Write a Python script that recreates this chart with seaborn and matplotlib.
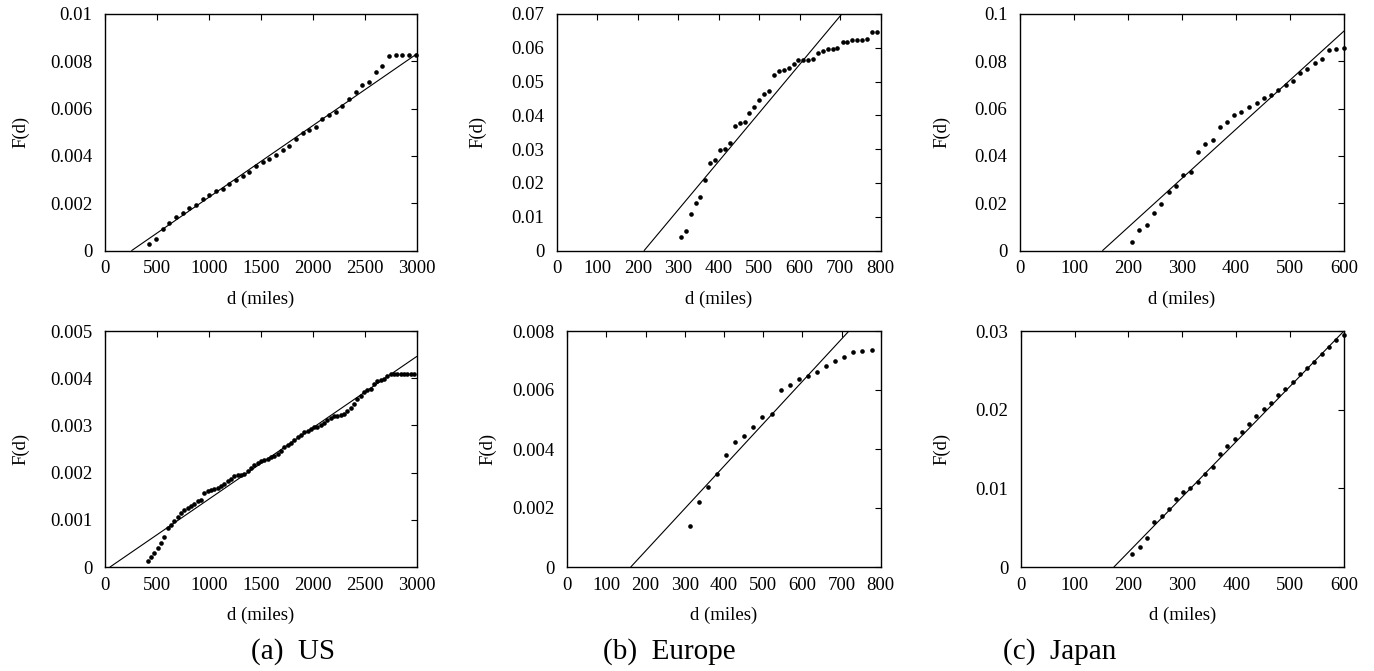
import matplotlib
matplotlib.use("Agg")
import matplotlib.pyplot as plt
import seaborn as sns

# ---------------- data ----------------
us_top_d = [430, 494, 558, 622, 686, 750, 814, 878, 942, 1006, 1070, 1134, 1198, 1262,
            1326, 1390, 1454, 1518, 1582, 1646, 1710, 1774, 1838, 1902, 1966, 2030, 2094,
            2158, 2222, 2286, 2350, 2414, 2478, 2542, 2606, 2670, 2734, 2798, 2862, 2926, 2990]
us_top_F = [0.00028, 0.00048, 0.00092, 0.00117, 0.00143, 0.00157, 0.00178, 0.00194, 0.00219,
            0.00233, 0.00250, 0.00260, 0.00281, 0.00298, 0.00315, 0.00333, 0.00356, 0.00374,
            0.00388, 0.00405, 0.00425, 0.00442, 0.00472, 0.00496, 0.00510, 0.00524, 0.00554,
            0.00575, 0.00586, 0.00609, 0.00640, 0.00672, 0.00698, 0.00713, 0.00754, 0.00782,
            0.00821, 0.00828, 0.00828, 0.00828, 0.00828]
us_top_fit_d = [260, 3000]
us_top_fit_F = [0.0, 0.00831]

eu_top_d = [307, 319, 331, 343, 355, 367, 379, 392, 404, 416, 428, 440, 452, 464, 476, 488,
            500, 513, 525, 537, 549, 561, 573, 585, 597, 609, 621, 633, 645, 657, 669, 681,
            693, 706, 718, 730, 742, 754, 766, 778, 790]
eu_top_F = [0.0040, 0.0058, 0.0108, 0.0142, 0.0158, 0.0209, 0.0258, 0.0269, 0.0297, 0.0301,
            0.0319, 0.0368, 0.0377, 0.0380, 0.0408, 0.0425, 0.0446, 0.0464, 0.0473, 0.0520,
            0.0530, 0.0533, 0.0539, 0.0552, 0.0563, 0.0565, 0.0565, 0.0568, 0.0586, 0.0591,
            0.0595, 0.0595, 0.0600, 0.0617, 0.0618, 0.0623, 0.0623, 0.0623, 0.0627, 0.0648,
            0.0648]
eu_top_fit_d = [216, 704]
eu_top_fit_F = [0.0, 0.07]

jp_top_d = [208, 221, 235, 248, 262, 275, 289, 302, 316, 330, 343, 357, 370, 384, 397, 410,
            424, 438, 451, 465, 478, 492, 505, 519, 532, 546, 559, 573, 586, 600]
jp_top_F = [0.0037, 0.0086, 0.0107, 0.0157, 0.0195, 0.0249, 0.0273, 0.0318, 0.0332, 0.0415,
            0.0449, 0.0468, 0.0524, 0.0544, 0.0572, 0.0585, 0.0605, 0.0624, 0.0644, 0.0657,
            0.0679, 0.0699, 0.0715, 0.0751, 0.0767, 0.0794, 0.0811, 0.0846, 0.0850, 0.0856]
jp_top_fit_d = [153, 600]
jp_top_fit_F = [0.0, 0.0928]

us_bot_d = [414, 446, 478, 510, 542, 574, 606, 638, 670, 702, 734, 766, 798, 830, 862, 894,
            926, 958, 990, 1022, 1054, 1086, 1118, 1150, 1182, 1214, 1246, 1278, 1310, 1342,
            1374, 1406, 1438, 1470, 1502, 1534, 1566, 1598, 1630, 1662, 1694, 1726, 1758,
            1790, 1822, 1854, 1886, 1918, 1950, 1982, 2014, 2046, 2078, 2110, 2142, 2174,
            2206, 2238, 2270, 2302, 2334, 2366, 2398, 2430, 2462, 2494, 2526, 2558, 2590,
            2622, 2654, 2686, 2718, 2750, 2782, 2814, 2846, 2878, 2910, 2942, 2974]
us_bot_F = [0.00012, 0.00022, 0.00030, 0.00040, 0.00050, 0.00063, 0.00082, 0.00088, 0.00097,
            0.00105, 0.00115, 0.00120, 0.00125, 0.00130, 0.00134, 0.00139, 0.00143, 0.00156,
            0.00160, 0.00163, 0.00166, 0.00168, 0.00171, 0.00175, 0.00183, 0.00186, 0.00192,
            0.00195, 0.00195, 0.00198, 0.00204, 0.00209, 0.00216, 0.00221, 0.00224, 0.00227,
            0.00229, 0.00232, 0.00235, 0.00239, 0.00246, 0.00255, 0.00259, 0.00263, 0.00269,
            0.00275, 0.00279, 0.00285, 0.00289, 0.00293, 0.00296, 0.00297, 0.00301, 0.00306,
            0.00312, 0.00315, 0.00319, 0.00319, 0.00321, 0.00325, 0.00331, 0.00337, 0.00345,
            0.00356, 0.00363, 0.00370, 0.00374, 0.00378, 0.00387, 0.00395, 0.00396, 0.00399,
            0.00405, 0.00409, 0.00409, 0.00409, 0.00409, 0.00409, 0.00409, 0.00409, 0.00409]
us_bot_fit_d = [51, 3000]
us_bot_fit_F = [0.0, 0.00446]

eu_bot_d = [314, 337, 360, 383, 406, 429, 452, 475, 498, 522, 545, 568, 591, 614, 638, 661,
            684, 707, 730, 753, 777]
eu_bot_F = [0.00138, 0.00222, 0.00272, 0.00316, 0.00381, 0.00424, 0.00444, 0.00476, 0.00507,
            0.00518, 0.00600, 0.00617, 0.00637, 0.00646, 0.00661, 0.00682, 0.00697, 0.00712,
            0.00728, 0.00733, 0.00737]
eu_bot_fit_d = [162, 719]
eu_bot_fit_F = [0.0, 0.008]

jp_bot_d = [207, 221, 234, 248, 262, 275, 288, 302, 315, 329, 342, 356, 370, 383, 397, 410,
            424, 437, 451, 464, 478, 491, 505, 519, 532, 545, 559, 573, 586, 600]
jp_bot_F = [0.00165, 0.00253, 0.00367, 0.00574, 0.00654, 0.00734, 0.00861, 0.00954, 0.01008,
            0.01080, 0.01181, 0.01274, 0.01435, 0.01544, 0.01633, 0.01722, 0.01814, 0.01920,
            0.02013, 0.02080, 0.02186, 0.02266, 0.02350, 0.02456, 0.02532, 0.02603, 0.02709,
            0.02797, 0.02882, 0.02949]
jp_bot_fit_d = [173, 600]
jp_bot_fit_F = [0.0, 0.03]

us_xticks = [0, 500, 1000, 1500, 2000, 2500, 3000]
eu_xticks = [0, 100, 200, 300, 400, 500, 600, 700, 800]
jp_xticks = [0, 100, 200, 300, 400, 500, 600]

us_top_yticks = [0, 0.002, 0.004, 0.006, 0.008, 0.01]
us_top_ylabels = ["0", "0.002", "0.004", "0.006", "0.008", "0.01"]
eu_top_yticks = [0, 0.01, 0.02, 0.03, 0.04, 0.05, 0.06, 0.07]
eu_top_ylabels = ["0", "0.01", "0.02", "0.03", "0.04", "0.05", "0.06", "0.07"]
jp_top_yticks = [0, 0.02, 0.04, 0.06, 0.08, 0.1]
jp_top_ylabels = ["0", "0.02", "0.04", "0.06", "0.08", "0.1"]
us_bot_yticks = [0, 0.001, 0.002, 0.003, 0.004, 0.005]
us_bot_ylabels = ["0", "0.001", "0.002", "0.003", "0.004", "0.005"]
eu_bot_yticks = [0, 0.002, 0.004, 0.006, 0.008]
eu_bot_ylabels = ["0", "0.002", "0.004", "0.006", "0.008"]
jp_bot_yticks = [0, 0.01, 0.02, 0.03]
jp_bot_ylabels = ["0", "0.01", "0.02", "0.03"]

captions = ["(a)  US", "(b)  Europe", "(c)  Japan"]
xlabel = "d (miles)"
ylabel = "F(d)"

# ---------------- style ----------------
sns.set_style("white")
plt.rcParams["font.family"] = ["Liberation Serif", "DejaVu Serif"]
plt.rcParams["font.size"] = 13.5
plt.rcParams["text.color"] = "black"
plt.rcParams["axes.labelcolor"] = "black"
plt.rcParams["xtick.color"] = "black"
plt.rcParams["ytick.color"] = "black"
plt.rcParams["axes.edgecolor"] = "black"

W, H = 1374, 671
fig = plt.figure(figsize=(W / 100, H / 100), dpi=100)
fig.patch.set_facecolor("white")


def rect(l, r, t, b):
    return [l / W, 1 - b / H, (r - l) / W, (b - t) / H]


panels = [
    ((104.7, 416.7, 14, 250.5), us_top_d, us_top_F, us_top_fit_d, us_top_fit_F,
     us_xticks, us_top_yticks, us_top_ylabels, 21),
    ((556.7, 880.7, 14, 250.5), eu_top_d, eu_top_F, eu_top_fit_d, eu_top_fit_F,
     eu_xticks, eu_top_yticks, eu_top_ylabels, 478),
    ((1020, 1344, 14, 250.5), jp_top_d, jp_top_F, jp_top_fit_d, jp_top_fit_F,
     jp_xticks, jp_top_yticks, jp_top_ylabels, 942),
    ((104.7, 416.7, 331, 567), us_bot_d, us_bot_F, us_bot_fit_d, us_bot_fit_F,
     us_xticks, us_bot_yticks, us_bot_ylabels, 21),
    ((567.3, 880.7, 331, 567), eu_bot_d, eu_bot_F, eu_bot_fit_d, eu_bot_fit_F,
     eu_xticks, eu_bot_yticks, eu_bot_ylabels, 488),
    ((1020.7, 1344, 331, 567), jp_bot_d, jp_bot_F, jp_bot_fit_d, jp_bot_fit_F,
     jp_xticks, jp_bot_yticks, jp_bot_ylabels, 942),
]

for (l, r, t, b), d, F, fd, fF, xt, yt, yl, ylx in panels:
    ax = fig.add_axes(rect(l, r, t, b))
    sns.lineplot(x=fd, y=fF, ax=ax, color="black", linewidth=0.8, sort=False)
    sns.scatterplot(x=d, y=F, ax=ax, color="black", s=11, linewidth=0,
                    clip_on=False, zorder=3)
    ax.set_xlim(xt[0], xt[-1])
    ax.set_ylim(yt[0], yt[-1])
    ax.set_xticks(xt)
    ax.set_xticklabels([str(v) for v in xt])
    ax.set_yticks(yt)
    ax.set_yticklabels(yl)
    ax.tick_params(direction="in", top=True, right=True, length=4, width=0.8,
                   labelsize=13.5, color="black", labelcolor="black")
    ax.tick_params(axis="x", pad=7)
    ax.tick_params(axis="y", pad=9)
    for sp in ax.spines.values():
        sp.set_linewidth(1.0)
        sp.set_color("black")
    ax.set_xlabel(xlabel, fontsize=13.5, color="black")
    ax.xaxis.label.set_verticalalignment("center")
    ax.xaxis.set_label_coords(0.5, -(48.5) / (b - t))
    ax.set_ylabel(ylabel, fontsize=13.5, color="black")
    ax.yaxis.label.set_verticalalignment("center")
    ax.yaxis.set_label_coords((ylx - l) / (r - l), 0.5)

for txt, xc in zip(captions, [293, 669, 1060]):
    fig.text(xc / W, 1 - 652 / H, txt, ha="center", va="center", fontsize=21,
             color="black")

fig.savefig("out.png", dpi=100, facecolor="white")
